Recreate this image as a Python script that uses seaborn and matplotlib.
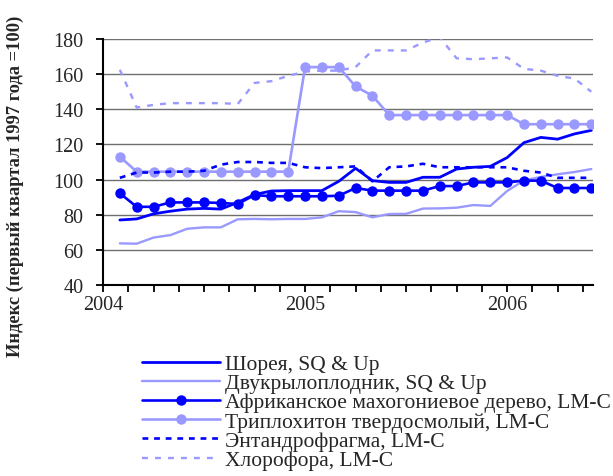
import numpy as np
import pandas as pd
import matplotlib
matplotlib.use("Agg")
import matplotlib.pyplot as plt
from matplotlib.ticker import MultipleLocator, FuncFormatter
import seaborn as sns

# months counted from January 2004 (0 = Jan 2004); data Feb 2004 .. Jun 2006
months = list(range(1, 30))
year_labels = {0: "2004", 12: "2005", 24: "2006"}

shorea = [77, 77.6, 80.5, 82, 83.2, 83.6, 83.2, 87, 91.5, 93.5, 93.7, 93.7, 93.7, 99,
          106.4, 99.4, 98.4, 98.4, 101.3, 101.3, 106, 107, 107.5, 112.5, 121, 124, 123, 126, 128]
dipterocarp = [63.7, 63.5, 67, 68.4, 72, 72.8, 72.8, 77.4, 77.6, 77.4, 77.6, 77.6, 78.5, 82,
               81.5, 78.5, 80.4, 80.5, 83.5, 83.6, 84, 85.5, 85, 93.5, 99.5, 101.5, 103, 104.3, 106]
khaya = [92.2, 84.5, 84.5, 87, 87, 87, 86.7, 86.1, 91.2, 90.5, 90.5, 90.5, 90.5, 90.8,
         95.2, 93.7, 93.7, 93.7, 93.7, 96.3, 96.3, 98.4, 98.4, 98.4, 99.4, 99.4, 95.2, 95.2, 95.2]
triplochiton = [113, 104.5, 104.5, 104.5, 104.5, 104.5, 104.5, 104.5, 104.5, 104.5, 104.5,
                164, 164, 164, 153, 147.7, 136.7, 136.7, 136.7, 136.7, 136.7, 136.7, 136.7, 136.7,
                131.5, 131.5, 131.5, 131.5, 131.5]
entandrophragma = [101, 104, 104, 104.5, 104.5, 105, 108.5, 110, 110, 109.5, 109.5, 107, 106.5,
                   107, 107.5, 99, 107, 107.5, 109, 107, 107, 107, 107, 107, 105, 104, 101, 101, 101]
chlorophora = [162.5, 141, 142.5, 143.5, 143.5, 143.5, 143.5, 143, 155, 156, 159, 161.5, 162, 162,
               164, 173.5, 173.5, 173.5, 178, 181, 169, 168.5, 169, 169.5, 163, 162, 159, 157.5, 150]

series_names = ["Шорея, SQ & Up", "Двукрылоплодник, SQ & Up",
                "Африканское махогониевое дерево, LM-C", "Триплохитон твердосмолый, LM-C",
                "Энтандрофрагма, LM-C", "Хлорофора, LM-C"]
series_values = [shorea, dipterocarp, khaya, triplochiton, entandrophragma, chlorophora]

dark = "#0000FF"
light = "#9999FF"
styles = [
    dict(color=dark, lw=2.0, ls="-", marker=None),
    dict(color=light, lw=1.7, ls="-", marker=None),
    dict(color=dark, lw=1.9, ls="-", marker="o"),
    dict(color=light, lw=1.9, ls="-", marker="o"),
    dict(color=dark, lw=1.9, ls=(0, (2.2, 2.2)), marker=None),
    dict(color=light, lw=1.7, ls=(0, (2.5, 3.0)), marker=None),
]

rows = []
for name, vals in zip(series_names, series_values):
    for m, v in zip(months, vals):
        rows.append({"month": m, "value": v, "series": name})
df = pd.DataFrame(rows)

sns.set_style("white")
plt.rcParams["font.family"] = ["Liberation Serif", "DejaVu Serif"]

fig = plt.figure(figsize=(6.13, 4.77), dpi=100)
ax = fig.add_axes([103 / 613, 1 - 286 / 477, (593 - 103) / 613, (286 - 40) / 477])

for name, st in zip(series_names, styles):
    sub = df[df["series"] == name]
    sns.lineplot(data=sub, x="month", y="value", ax=ax, color=st["color"],
                 linewidth=st["lw"], linestyle=st["ls"], marker=st["marker"],
                 markersize=7.5, markeredgewidth=0, label=name, zorder=3)

ax.set_xlim(0, 29.1)
ax.set_ylim(40, 180)
ax.yaxis.set_major_locator(MultipleLocator(20))
ax.xaxis.set_major_locator(MultipleLocator(1.5))
ax.xaxis.set_major_formatter(FuncFormatter(
    lambda v, p: year_labels.get(int(round(v)), "") if abs(v - round(v)) < 1e-6 else ""))

for y in range(60, 181, 20):
    ax.axhline(y, color="#6f6f6f", lw=1.0, zorder=1)

for s in ["top", "right"]:
    ax.spines[s].set_visible(False)
for s in ["left", "bottom"]:
    ax.spines[s].set_color("black")
    ax.spines[s].set_linewidth(1.5)

ax.tick_params(axis="both", which="major", direction="out", length=5, width=1.3,
               color="black", labelsize=14.5, left=True, bottom=True)
ax.tick_params(axis="y", pad=9)
ax.tick_params(axis="x", pad=2)
ax.set_xlabel("")
ax.set_ylabel("")
fig.text(15 / 613, 1 - 186 / 477, "Индекс (первый квартал 1997 года =100)", rotation=90,
         ha="center", va="center", fontsize=13.3, fontweight="bold")

handles, labels = ax.get_legend_handles_labels()
if ax.legend_:
    ax.legend_.remove()
leg = fig.legend(handles, labels, loc="upper left", bbox_to_anchor=(142 / 613, 1 - 355 / 477),
                 frameon=False, fontsize=15.5, handlelength=3.6, handletextpad=0.25,
                 labelspacing=-0.04, borderpad=0, borderaxespad=0)

fig.savefig("out.png", dpi=100)
